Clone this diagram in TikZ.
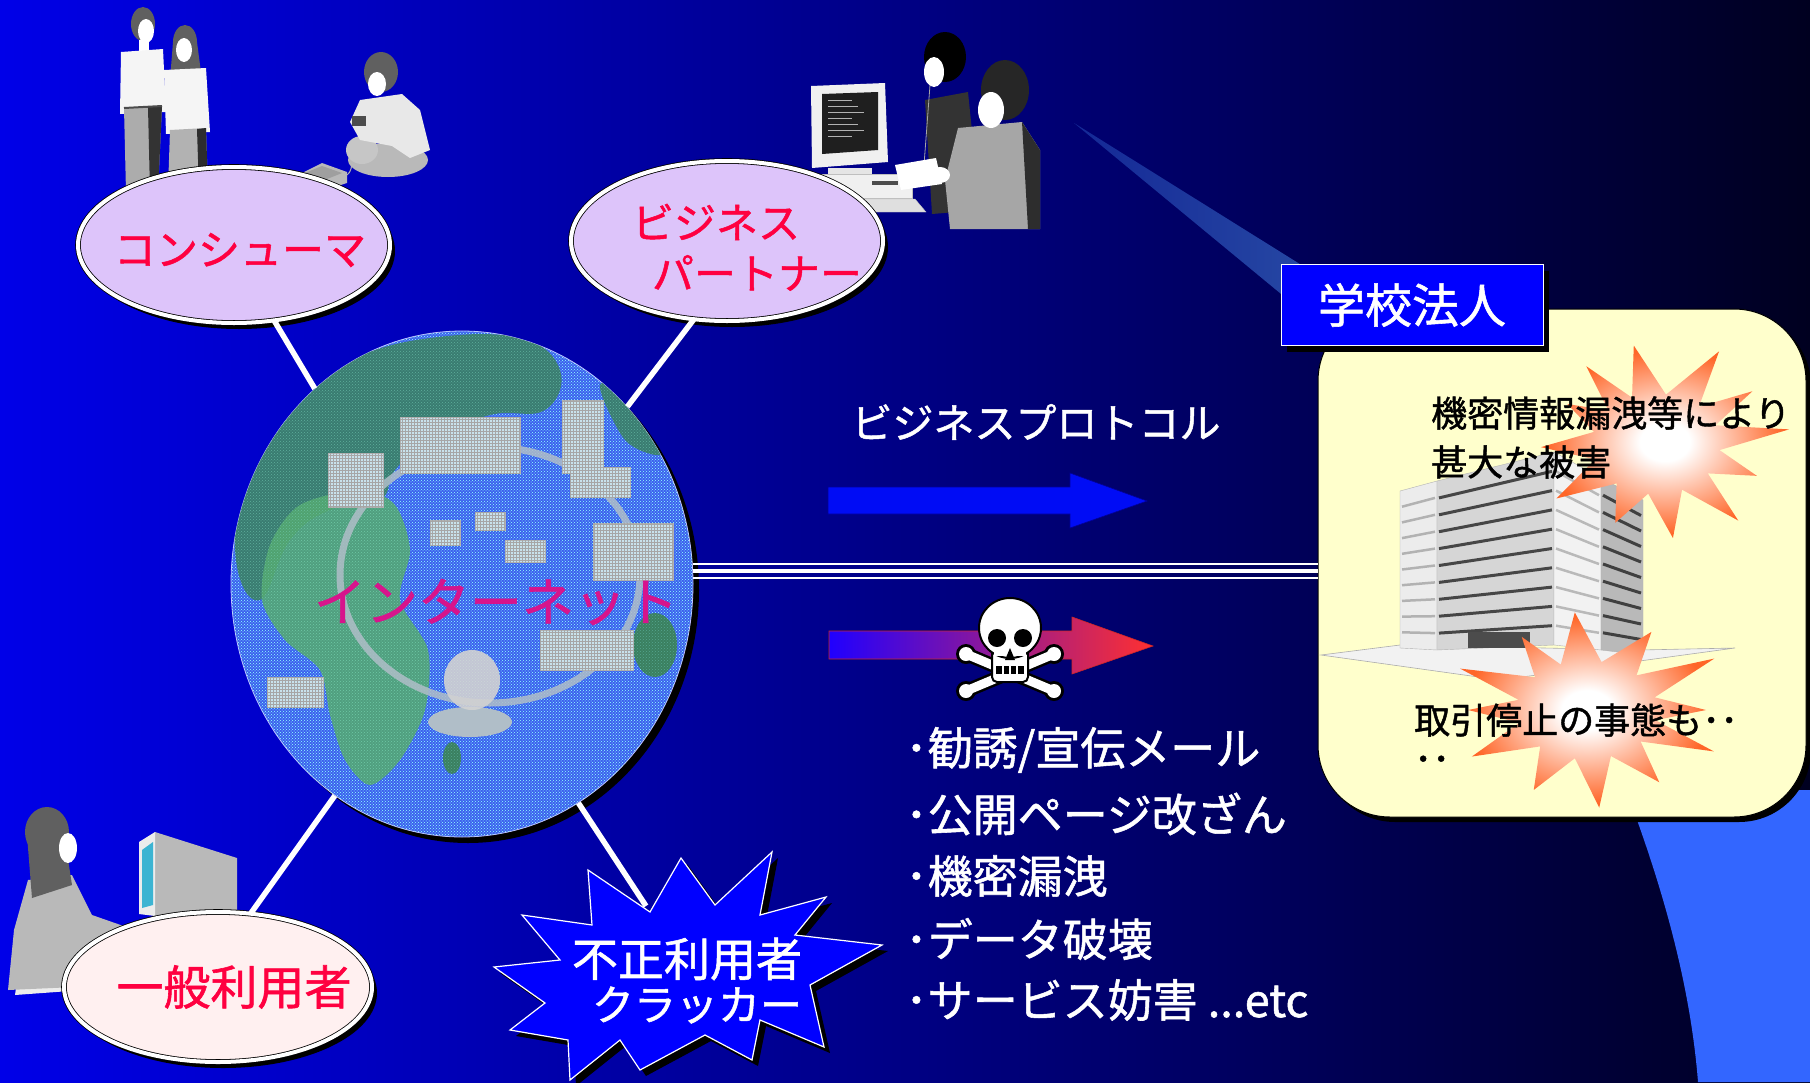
\documentclass[tikz,border=0pt]{standalone}
\usepackage{fontspec}
\usetikzlibrary{shapes.geometric,shadows,patterns}
\newfontfamily\jpfont[FakeBold=1.2]{Noto Sans CJK JP}

\definecolor{bgl}{RGB}{0,0,232}
\definecolor{bgm}{RGB}{0,0,168}
\definecolor{bgr}{RGB}{0,0,32}
\definecolor{sky}{RGB}{51,102,255}
\definecolor{beamA}{RGB}{20,40,150}
\definecolor{beamB}{RGB}{40,75,165}
\definecolor{lavender}{RGB}{221,196,250}
\definecolor{blush}{RGB}{255,240,240}
\definecolor{labelred}{RGB}{255,0,64}
\definecolor{netpink}{RGB}{215,20,140}
\definecolor{cream}{RGB}{255,255,204}
\definecolor{burstor}{RGB}{255,102,40}
\definecolor{globeblue}{RGB}{60,95,238}
\definecolor{landdark}{RGB}{58,128,96}
\definecolor{landlite}{RGB}{84,168,112}
\definecolor{bldg}{RGB}{200,226,236}
\definecolor{roadgray}{RGB}{176,190,200}
\definecolor{pureblue}{RGB}{0,0,255}
\definecolor{arrowblue}{RGB}{0,12,245}
\definecolor{hotred}{RGB}{255,48,48}
\definecolor{coolblue}{RGB}{32,0,255}
\definecolor{hair}{RGB}{96,96,96}
\definecolor{screen}{RGB}{60,180,210}

\pgfdeclareradialshading{burst}{\pgfpoint{0bp}{0bp}}{color(0bp)=(white); color(5bp)=(white); color(24bp)=(burstor); color(50bp)=(burstor)}

\tikzset{
  oval/.style={ellipse, draw=black, line width=0.8pt, double=white, double distance=4pt, inner sep=0pt,
    drop shadow={shadow xshift=5pt, shadow yshift=-6pt, opacity=1, fill=black}},
  spoke/.style={white, line width=5.5pt},
  wire/.style={white, line width=#1},
  jtxt/.style={inner sep=0pt, font=\jpfont\fontsize{#1}{#1}\selectfont},
  hardshadow/.style={drop shadow={shadow xshift=#1, shadow yshift=-#1, opacity=1, fill=black}},
  tower/.style={fill=bldg, draw=gray!60, line width=0.6pt},
}

% a small building on the globe, with rows of windows
\newcommand\gblock[4]{%
  \filldraw[tower] (#1,#2) rectangle (#3,#4);
  \fill[pattern=grid, pattern color=gray!70] (#1,#2) rectangle (#3,#4);}

\begin{document}
\begin{tikzpicture}[x=1pt,y=-1pt]
\useasboundingbox (0,0) rectangle (1810,1082);

% backdrop
\shade[left color=bgl, middle color=bgm, right color=bgr] (0,0) rectangle (1810,1082);
\fill[sky] (1626,790) .. controls (1660,880) and (1690,980) .. (1698,1082) -- (1810,1082) -- (1810,790) -- cycle;
\shade[left color=beamA, right color=beamB] (1074,123) -- (1335,286) -- (1315,322) -- cycle;

% ---- standing couple
\fill[hair] (143,24) ellipse [x radius=12, y radius=17];
\fill[white] (146,31) ellipse [x radius=8, y radius=12];
\fill[white] (139,40) rectangle (149,52);
\fill[white!92!gray] (121,52) -- (163,49) -- (166,112) -- (120,114) -- cycle;
\fill[gray!65] (124,108) -- (162,106) -- (158,192) -- (126,192) -- cycle;
\fill[gray!40!black] (148,107) -- (162,106) -- (158,192) -- (150,192) -- cycle;
\draw[black!70, line width=2pt] (124,108) -- (162,106);
\fill[hair] (185,42) ellipse [x radius=12, y radius=17];
\fill[hair] (173,42) -- (197,42) -- (202,80) -- (170,80) -- cycle;
\fill[white] (184,50) ellipse [x radius=8, y radius=12];
\fill[white!92!gray] (164,70) -- (206,68) -- (210,132) -- (166,134) -- cycle;
\fill[gray!60] (170,130) -- (206,128) -- (208,190) -- (168,190) -- cycle;
\fill[gray!35!black] (197,129) -- (206,128) -- (208,190) -- (199,190) -- cycle;

% ---- child with a game console
\fill[gray!55] (296,176) -- (322,163) -- (347,172) -- (347,183) -- (322,191) -- (296,186) -- cycle;
\fill[gray!75] (300,175) -- (322,166) -- (342,173) -- (322,181) -- cycle;
\draw[gray!60, line width=1pt] (347,175) .. controls (355,170) and (350,150) .. (358,140);
\fill[gray!55] (388,160) ellipse [x radius=40, y radius=17];
\fill[gray!45] (362,150) ellipse [x radius=16, y radius=14];
\fill[gray!18] (360,100) -- (402,94) -- (420,110) -- (430,150) -- (410,158) -- (392,146) -- (360,140) -- (350,122) -- cycle;
\fill[gray!60!black] (352,116) rectangle (366,126);
\fill[hair] (381,72) ellipse [x radius=17, y radius=20];
\fill[white] (377,84) ellipse [x radius=9, y radius=12];

% ---- office workers at a computer
\fill[gray!12] (811,86) -- (885,83) -- (888,162) -- (812,168) -- cycle;
\fill[black!88] (822,94) -- (878,92) -- (878,150) -- (822,154) -- cycle;
\foreach \k in {0,...,6} \draw[gray!60, line width=0.8pt] (828,{100+6*\k}) -- ({852+6*mod(\k,3)},{100+6*\k});
\fill[gray!20] (828,168) rectangle (872,174);
\filldraw[fill=gray!12, draw=gray!50] (812,174) rectangle (912,198);
\fill[black!70] (872,181) rectangle (898,185);
\filldraw[fill=gray!25, draw=gray!50] (850,199) -- (915,199) -- (926,212) -- (858,212) -- cycle;
\fill[gray!40!black] (925,100) -- (968,92) -- (980,210) -- (932,214) -- cycle;
\fill[black] (945,57) ellipse [x radius=21, y radius=25];
\fill[white] (934,72) ellipse [x radius=10, y radius=15];
\draw[gray!70, line width=0.8pt] (930,85) -- (924,165);
\fill[gray!70] (958,128) -- (1022,122) -- (1040,150) -- (1040,229) -- (950,229) -- (945,180) -- cycle;
\fill[gray!35!black] (1022,122) -- (1040,150) -- (1040,229) -- (1028,229) -- cycle;
\fill[gray!30!black] (1005,90) ellipse [x radius=24, y radius=30];
\fill[white] (991,110) ellipse [x radius=13, y radius=18];
\fill[white] (895,165) -- (936,158) -- (942,184) -- (901,190) -- cycle;
\fill[white] (940,175) ellipse [x radius=10, y radius=8];

% ---- woman at a desk
\fill[gray!15] (20,960) -- (140,945) -- (152,985) -- (15,995) -- cycle;
\fill[gray!55] (28,880) -- (72,875) -- (92,915) -- (135,930) -- (140,950) -- (95,948) -- (120,985) -- (8,990) -- (14,930) -- cycle;
\fill[hair] (47,832) ellipse [x radius=22, y radius=25];
\fill[hair] (27,835) -- (62,820) -- (72,885) -- (32,898) -- cycle;
\fill[white] (68,848) ellipse [x radius=9, y radius=15];
\fill[gray!55] (155,832) -- (237,858) -- (237,912) -- (155,916) -- cycle;
\fill[gray!15] (139,842) -- (155,832) -- (155,916) -- (139,914) -- cycle;
\fill[screen] (142,850) -- (153,842) -- (153,905) -- (142,908) -- cycle;
\fill[white!90!gray] (110,930) -- (150,925) -- (160,945) -- (118,950) -- cycle;

% ---- corporate panel
\node[fill=cream, draw=black, line width=1pt, rounded corners=72pt, minimum width=488pt, minimum height=508pt,
      inner sep=0pt, hardshadow=5pt] (corp) at (1562,563) {};
% building
\filldraw[fill=gray!10, draw=gray!65, line width=0.6pt] (1321,655) -- (1400,645) -- (1640,650) -- (1735,648) -- (1500,680) -- cycle;
\filldraw[fill=gray!15, draw=gray!60] (1400,491) -- (1437,481) -- (1437,650) -- (1400,648) -- cycle;
\filldraw[fill=gray!32, draw=gray!60] (1437,481) -- (1554,452) -- (1554,645) -- (1437,650) -- cycle;
\filldraw[fill=gray!10, draw=gray!60] (1554,452) -- (1601,478) -- (1601,650) -- (1554,645) -- cycle;
\filldraw[fill=gray!55, draw=gray!60] (1601,478) -- (1643,500) -- (1643,655) -- (1601,650) -- cycle;
\foreach \i in {1,...,9} {
  \draw[gray!60, line width=2.5pt] (1402,{491+15.7*\i}) -- (1435,{481+16.9*\i});
  \draw[gray!55!black, line width=3pt] (1439,{481+16.9*\i}) -- (1552,{452+19.3*\i});
  \draw[gray!55, line width=2.5pt] (1556,{452+19.3*\i}) -- (1599,{478+17.2*\i});
  \draw[black!75, line width=3pt] (1603,{478+17.2*\i}) -- (1641,{500+15.5*\i});
}
\fill[gray!60!black] (1468,632) rectangle (1530,648);
% damage bursts
\begin{scope}[shift={(1656,444)}, xscale=128, yscale=100]
\shade[shading=burst] (-100:1) -- (-81:0.5) -- (-62:1.05) -- (-48:0.5) -- (-35:0.92) -- (-22:0.5) -- (-8:1.05) -- (7:0.5)
  -- (22:0.85) -- (36:0.5) -- (50:1) -- (66:0.5) -- (82:0.95) -- (97:0.5) -- (112:0.85) -- (128:0.5) -- (145:0.95)
  -- (162:0.5) -- (178:0.9) -- (194:0.5) -- (210:0.8) -- (222:0.5) -- (235:0.95) -- (248:0.5) -- cycle;
\end{scope}
\begin{scope}[shift={(1587,710)}, xscale=140, yscale=98]
\shade[shading=burst] (-95:1) -- (-78:0.5) -- (-60:0.92) -- (-45:0.5) -- (-30:1.05) -- (-15:0.5) -- (0:0.85) -- (12:0.5)
  -- (25:1) -- (40:0.5) -- (55:0.9) -- (70:0.5) -- (85:1) -- (100:0.5) -- (115:0.9) -- (132:0.5) -- (150:0.95)
  -- (165:0.5) -- (180:0.85) -- (192:0.5) -- (205:1) -- (222:0.5) -- (238:0.88) -- (248:0.5) -- cycle;
\end{scope}
\node[jtxt=36pt, anchor=west] (leak) at (1431,413) {機密情報漏洩等により};
\node[jtxt=36pt, anchor=west] (harm) at (1431,462) {甚大な被害};
\node[jtxt=36pt, anchor=west] (halt) at (1414,720) {取引停止の事態も･･};
\node[jtxt=36pt, anchor=west] (halt2) at (1414,764) {･･};

% label of the corporation
\node[fill=pureblue, draw=white, line width=1pt, minimum width=262pt, minimum height=81pt, hardshadow=6pt,
      text=white, jtxt=47pt] (school) at (1412,305) {学校法人};

% ---- the internet globe
\node[ellipse, minimum width=462pt, minimum height=506pt, inner sep=0pt, fill=globeblue,
      draw=white!75!blue, line width=0.8pt, hardshadow=6pt] (globe) at (462,584) {};
\begin{scope}
\clip (462,584) ellipse [x radius=231, y radius=253];
\fill[pattern=crosshatch dots, pattern color=white!55!cyan] (231,331) rectangle (693,837);
\fill[landdark, opacity=0.88] plot[smooth cycle, tension=0.7] coordinates {(236,560) (245,470) (290,400) (350,360) (430,338) (520,338) (560,370) (545,410) (490,415) (430,440) (395,470) (380,500) (330,510) (290,540) (260,600)};
\fill[landlite, opacity=0.88] plot[smooth cycle] coordinates {(300,505) (360,490) (395,505) (410,550) (400,600) (428,650) (425,710) (400,760) (370,785) (345,760) (330,715) (320,670) (285,640) (262,600) (270,545)};
\fill[landdark, opacity=0.88] plot[smooth cycle] coordinates {(600,385) (640,390) (668,430) (660,455) (625,440)};
\fill[landdark] (655,645) ellipse [x radius=22, y radius=32];
\fill[landdark] (452,758) ellipse [x radius=9, y radius=16];
\fill[pattern=crosshatch dots, pattern color=white!60!cyan, opacity=0.3] (231,331) rectangle (693,837);
\draw[roadgray, line width=7pt, opacity=0.85] (490,575) ellipse [x radius=150, y radius=128];
\gblock{400}{417}{520}{473}
\gblock{562}{400}{603}{473}
\gblock{570}{467}{630}{497}
\gblock{328}{453}{383}{507}
\gblock{593}{523}{673}{580}
\gblock{540}{630}{633}{670}
\gblock{267}{677}{323}{707}
\gblock{430}{520}{460}{545}
\gblock{475}{512}{505}{530}
\gblock{505}{540}{545}{562}
\fill[roadgray] (470,722) ellipse [x radius=42, y radius=15];
\fill[gray!35, opacity=0.9] (472,680) ellipse [x radius=28, y radius=30];
\end{scope}

% ---- user groups around the globe
\node[oval, fill=lavender, minimum width=312pt, minimum height=156pt] (cons) at (234,245) {};
\node[oval, fill=lavender, minimum width=312pt, minimum height=160pt] (biz) at (727,241) {};
\node[oval, fill=blush, minimum width=308pt, minimum height=150pt] (user) at (218,987) {};
\coordinate (crk) at (646,906);

\draw[spoke] (cons.-62) -- (globe.127);
\draw[spoke] (biz.-113) -- (globe.47);
\draw[spoke] (user.66) -- (globe.-121);
\draw[spoke] (globe.-62) -- (crk);
% leased line to the corporation
\draw[wire=2.4pt] ([yshift=-1pt]globe.east |- corp.west) -- ([yshift=-1pt]corp.west);
\draw[wire=4pt] ([yshift=-8pt]globe.east |- corp.west) -- ([yshift=-8pt]corp.west);
\draw[wire=2.4pt] ([yshift=-15pt]globe.east |- corp.west) -- ([yshift=-15pt]corp.west);

% cracker burst
\filldraw[fill=pureblue, draw=white, line width=1.2pt, hardshadow=6pt]
  (681,858) -- (715,905) -- (772,852) -- (760,915) -- (826,897) -- (795,935) -- (882,945) -- (810,985)
  -- (824,1047) -- (760,1020) -- (752,1060) -- (705,1035) -- (640,1070) -- (620,1040) -- (570,1080)
  -- (568,1040) -- (510,1030) -- (545,1003) -- (494,967) -- (560,960) -- (522,915) -- (592,925)
  -- (588,870) -- (650,912) -- cycle;

% labels
\node[jtxt=52pt, text=netpink] (net) at (496,602) {インターネット};
\node[jtxt=42pt, text=labelred] (consT) at (240,250) {コンシューマ};
\node[jtxt=42pt, text=labelred] (bizT1) at (716,222) {ビジネス};
\node[jtxt=42pt, text=labelred] (bizT2) at (757,273) {パートナー};
\node[jtxt=47pt, text=labelred] (userT) at (234,987) {一般利用者};
\node[jtxt=46pt, text=white] (crkT1) at (687,959) {不正利用者};
\node[jtxt=42pt, text=white] (crkT2) at (697,1005) {クラッカー};
\node[jtxt=41pt, text=white] (proto) at (1036,422) {ビジネスプロトコル};

% protocol arrows
\filldraw[fill=arrowblue, draw=blue!60!black, line width=0.6pt]
  (828,487) -- (1070,487) -- (1070,473) -- (1147,501) -- (1070,528) -- (1070,514) -- (828,514) -- cycle;
\shade[left color=coolblue, right color=hotred]
  (829,631) -- (1072,631) -- (1072,617) -- (1153,646) -- (1072,674) -- (1072,659) -- (829,659) -- cycle;
\draw[hotred!80!black, line width=0.6pt]
  (829,631) -- (1072,631) -- (1072,617) -- (1153,646) -- (1072,674) -- (1072,659) -- (829,659) -- cycle;

% skull and crossbones
\foreach \a/\b/\c/\d in {966/654/1054/691, 1054/654/966/691} {
  \draw[black, line width=14pt, line cap=round] (\a,\b) -- (\c,\d);
  \fill[black] (\a,\b) circle [radius=10]; \fill[black] (\c,\d) circle [radius=10];
}
\foreach \a/\b/\c/\d in {966/654/1054/691, 1054/654/966/691} {
  \draw[white, line width=9pt, line cap=round] (\a,\b) -- (\c,\d);
  \fill[white] (\a,\b) circle [radius=7]; \fill[white] (\c,\d) circle [radius=7];
}
\filldraw[fill=white, draw=black, line width=2pt, rounded corners=5pt] (992,648) rectangle (1028,682);
\filldraw[fill=white, draw=black, line width=2pt] (1010,628) ellipse [x radius=31, y radius=30];
\fill[white] (994,645) rectangle (1026,656);
\fill[black] (997,638) ellipse [x radius=9, y radius=9];
\fill[black] (1023,638) ellipse [x radius=9, y radius=9];
\fill[black] (1010,648) -- (1005,660) -- (1015,660) -- cycle;
\fill[black] (996,666) rectangle (1024,674);
\draw[white, line width=1.5pt] (1003,666) -- (1003,674) (1010,666) -- (1010,674) (1017,666) -- (1017,674);

% threat list
\node[jtxt=45pt, text=white, anchor=west] (th1) at (905,750) {･勧誘/宣伝メール};
\node[jtxt=45pt, text=white, anchor=west] (th2) at (905,814) {･公開ページ改ざん};
\node[jtxt=45pt, text=white, anchor=west] (th3) at (905,876) {･機密漏洩};
\node[jtxt=45pt, text=white, anchor=west] (th4) at (905,939) {･データ破壊};
\node[jtxt=45pt, text=white, anchor=west] (th5) at (905,1000) {･サービス妨害 ...etc};
\end{tikzpicture}
\end{document}
